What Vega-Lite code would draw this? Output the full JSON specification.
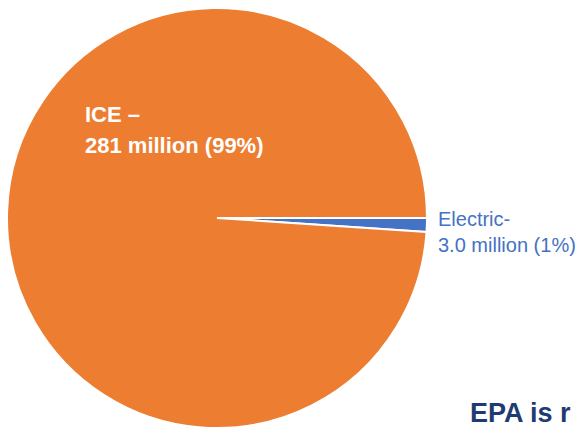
{
  "$schema": "https://vega.github.io/schema/vega-lite/v6.json",
  "width": 434,
  "height": 436,
  "autosize": {"type": "none"},
  "padding": {"left": 0, "top": 0, "right": 146, "bottom": 0},
  "background": "white",
  "config": {"view": {"stroke": null}, "font": "Liberation Sans"},
  "data": {
    "values": [
      {"category": "Electric", "vehicles": 3.0, "label": "Electric-\n3.0 million (1%)"},
      {"category": "ICE", "vehicles": 281, "label": "ICE –\n281 million (99%)"}
    ]
  },
  "layer": [
    {
      "mark": {"type": "arc", "outerRadius": 210, "stroke": "white", "strokeWidth": 2},
      "encoding": {
        "theta": {"field": "vehicles", "type": "quantitative", "stack": true, "scale": {"range": [1.5708, 7.854]}},
        "color": {"field": "category", "type": "nominal", "scale": {"domain": ["Electric", "ICE"], "range": ["#4472C4", "#ED7D31"]}, "legend": null}
      }
    },
    {
      "transform": [{"filter": "datum.category === 'ICE'"}],
      "mark": {"type": "text", "align": "left", "baseline": "alphabetic", "dx": -132, "dy": -96, "fontSize": 22, "fontWeight": "bold", "color": "white", "lineBreak": "\n", "lineHeight": 31},
      "encoding": {"text": {"field": "label"}}
    },
    {
      "transform": [{"filter": "datum.category === 'Electric'"}],
      "mark": {"type": "text", "align": "left", "baseline": "alphabetic", "dx": 221, "dy": 8, "fontSize": 20, "color": "#4472C4", "lineBreak": "\n", "lineHeight": 26},
      "encoding": {"text": {"field": "label"}}
    },
    {
      "data": {"values": [{"note": "EPA is r"}]},
      "mark": {"type": "text", "align": "left", "baseline": "alphabetic", "dx": 253, "dy": 204, "fontSize": 27, "fontWeight": "bold", "color": "#1F3B73"},
      "encoding": {"text": {"field": "note"}}
    }
  ]
}
